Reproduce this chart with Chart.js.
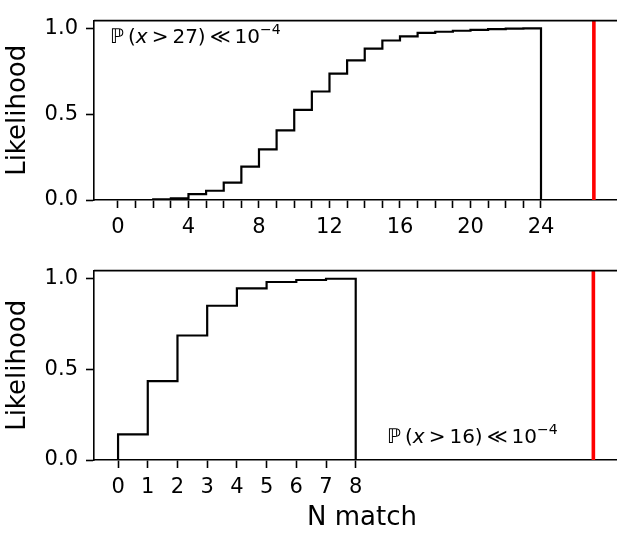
<!DOCTYPE html>
<html>
<head>
<meta charset="utf-8">
<script src="https://cdn.jsdelivr.net/npm/chart.js@4.4.0/dist/chart.umd.min.js"></script>
<style>
  body { margin: 0; width: 617px; height: 535px; overflow: hidden; background: #fff; position: relative; }
  #topChart { position: absolute; left: 0; top: 0; }
  #botChart { position: absolute; left: 0; top: 250px; }
</style>
</head>
<body>
<canvas id="topChart" width="630" height="250"></canvas>
<canvas id="botChart" width="630" height="285"></canvas>
<script>
// ---- data ----
const topEdges = [0, 1, 2, 3, 4, 5, 6, 7, 8, 9, 10, 11, 12, 13, 14, 15, 16, 17, 18, 19, 20, 21, 22, 23, 24];
const topCdf = [0, 0, 0.004, 0.009, 0.034, 0.054, 0.101, 0.194, 0.295, 0.406, 0.525, 0.632,
                0.736, 0.813, 0.882, 0.929, 0.953, 0.973, 0.980, 0.986, 0.991, 0.995, 0.998, 1.0];
const topTicks = [0, 1, 2, 3, 4, 5, 6, 7, 8, 9, 10, 11, 12, 13, 14, 15, 16, 17, 18, 19, 20, 21, 22, 23, 24];
const topLabelEvery = 4;
const topThreshold = 27;

const botEdges = [0, 1, 2, 3, 4, 5, 6, 7, 8];
const botCdf = [0.141, 0.435, 0.687, 0.851, 0.947, 0.982, 0.993, 1.0];
const botTicks = [0, 1, 2, 3, 4, 5, 6, 7, 8];
const botThreshold = 16;

const yTicks = [0, 0.5, 1.0];
const yMax = 1.045;

Chart.defaults.font.family = "'DejaVu Sans', sans-serif";
Chart.defaults.color = "#000";

// build cumulative step outline (matplotlib histtype="step" look)
function stepPoints(edges, vals) {
  const pts = [{ x: edges[0], y: 0 }];
  vals.forEach((v, i) => pts.push({ x: edges[i], y: v }));
  const last = edges[edges.length - 1];
  pts.push({ x: last, y: vals[vals.length - 1] });
  pts.push({ x: last, y: 0 });
  return pts;
}

// top spine
const topSpine = {
  id: "topSpine",
  afterDraw(chart) {
    const { ctx, chartArea } = chart;
    ctx.save();
    ctx.strokeStyle = "#000";
    ctx.lineWidth = 1.6;
    ctx.beginPath();
    ctx.moveTo(chartArea.left, chartArea.top);
    ctx.lineTo(chartArea.right, chartArea.top);
    ctx.stroke();
    ctx.restore();
  },
};

// "P(x > n) << 10^-4" note
const probNote = {
  id: "probNote",
  afterDraw(chart, args, opts) {
    const { ctx, chartArea } = chart;
    const size = opts.size;
    let x = chartArea.left + opts.dx;
    const y = chartArea.top + opts.dy;
    const normal = `${size}px 'DejaVu Sans'`;
    const thin = "\u2009";
    const parts = [
      ["\u2119" + thin + "(", normal, 0],
      ["x", `italic ${size}px 'DejaVu Sans'`, 0],
      [`${thin}>${thin}${opts.value})${thin}\u226A${thin}10`, normal, 0],
      ["\u22124", `${Math.round(size * 0.7)}px 'DejaVu Sans'`, -size * 0.42],
    ];
    ctx.save();
    ctx.fillStyle = "#000";
    ctx.textBaseline = "alphabetic";
    ctx.textAlign = "left";
    parts.forEach(([t, f, dy]) => {
      ctx.font = f;
      ctx.fillText(t, x, y + dy);
      x += ctx.measureText(t).width;
    });
    ctx.restore();
  },
};

function makeChart(id, opts) {
  const ctx = document.getElementById(id).getContext("2d");
  return new Chart(ctx, {
    type: "line",
    data: {
      datasets: [
        {
          data: stepPoints(opts.edges, opts.cdf),
          borderColor: "#000",
          borderWidth: 2.2,
          pointRadius: 0,
          stepped: true,
          fill: false,
        },
        {
          data: [{ x: opts.threshold, y: 0 }, { x: opts.threshold, y: yMax }],
          borderColor: "#ff0000",
          borderWidth: 3.6,
          pointRadius: 0,
          fill: false,
        },
      ],
    },
    options: {
      responsive: false,
      animation: false,
      layout: { padding: { top: opts.padTop, left: 0, right: 0, bottom: 0 } },
      plugins: {
        legend: { display: false },
        tooltip: { enabled: false },
        probNote: opts.note,
      },
      scales: {
        x: {
          type: "linear",
          min: opts.xMin,
          max: opts.xMax,
          afterBuildTicks: (scale) => {
            scale.ticks = opts.ticks.map((v) => ({ value: v }));
          },
          afterFit: (scale) => {
            scale.height = opts.xAxisHeight;
          },
          ticks: {
            autoSkip: false,
            maxRotation: 0,
            padding: 7,
            font: { size: 21 },
            callback: opts.tickLabel,
          },
          grid: {
            drawOnChartArea: false,
            tickLength: 8,
            tickColor: "#000",
            tickWidth: 1.6,
          },
          border: { color: "#000", width: 1.6 },
          title: opts.xTitle,
        },
        y: {
          min: 0,
          max: yMax,
          afterBuildTicks: (scale) => {
            scale.ticks = yTicks.map((v) => ({ value: v }));
          },
          afterFit: (scale) => {
            scale.width = 94;
          },
          ticks: {
            padding: 8,
            font: { size: 21 },
            callback: (v) => v.toFixed(1),
          },
          grid: {
            drawOnChartArea: false,
            tickLength: 8,
            tickColor: "#000",
            tickWidth: 1.6,
          },
          border: { color: "#000", width: 1.6 },
          title: {
            display: true,
            text: "Likelihood",
            font: { size: 26 },
            padding: { top: 3, bottom: 0 },
          },
        },
      },
    },
    plugins: [topSpine, probNote],
  });
}

const topChart = makeChart("topChart", {
  edges: topEdges,
  cdf: topCdf,
  threshold: topThreshold,
  ticks: topTicks,
  tickLabel: (v) => (v % topLabelEvery === 0 ? String(v) : ""),
  xMin: -1.36,
  xMax: (630 - 118) / 17.625,
  xAxisHeight: 50,
  padTop: 8,
  xTitle: { display: false },
  note: { dx: 16, dy: 22, size: 20, value: 27 },
});

const botChart = makeChart("botChart", {
  edges: botEdges,
  cdf: botCdf,
  threshold: botThreshold,
  ticks: botTicks,
  tickLabel: (v) => String(v),
  xMin: -0.81,
  xMax: (630 - 118) / 29.71,
  xAxisHeight: 75,
  padTop: 18,
  xTitle: { display: true, text: "N match", font: { size: 26 }, padding: { top: 0, bottom: 1 } },
  note: { dx: 293, dy: 172, size: 20, value: 16 },
});
</script>
</body>
</html>
